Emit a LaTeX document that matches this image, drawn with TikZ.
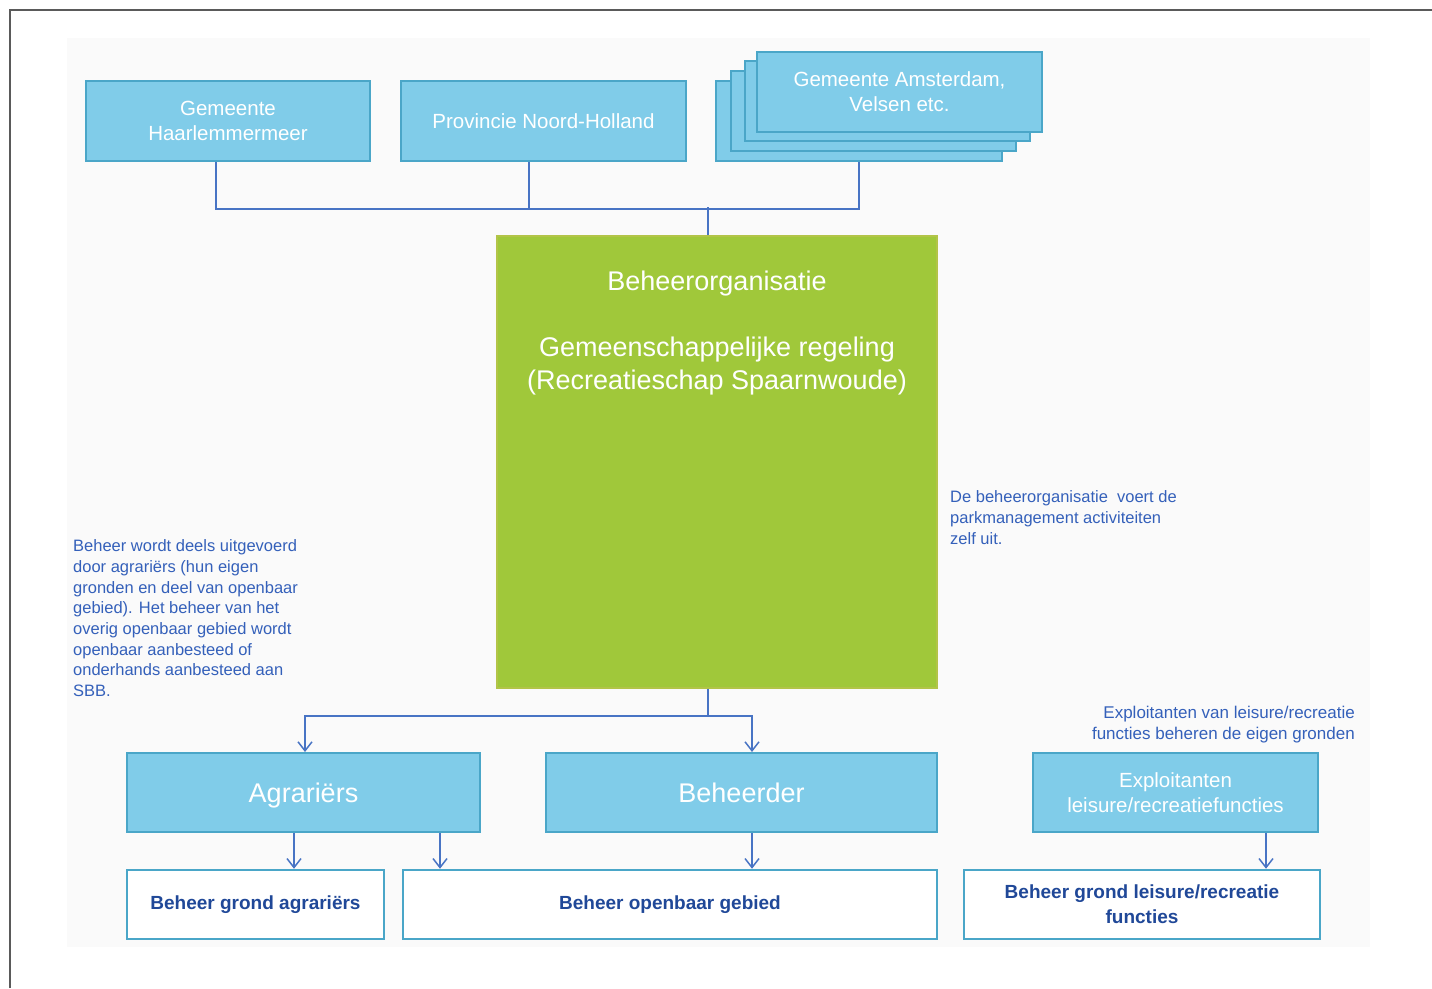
\documentclass[tikz,border=0pt]{standalone}
\usepackage{fontspec}
\setmainfont{Liberation Sans}
\usetikzlibrary{positioning, arrows.meta}
\definecolor{boxcolor}{RGB}{128,204,233}
\definecolor{boxedgecolor}{RGB}{74,166,200}
\definecolor{orgcolor}{RGB}{160,200,58}
\definecolor{orgedgecolor}{RGB}{178,196,72}
\definecolor{linecolor}{RGB}{72,116,196}
\definecolor{notecolor}{RGB}{52,96,186}
\definecolor{taskcolor}{RGB}{32,72,152}
\definecolor{bgcolor}{RGB}{250,250,250}
\definecolor{framecolor}{RGB}{90,90,90}

\begin{document}
\begin{tikzpicture}[x=1pt, y=-1pt]
  \tikzset{
    party/.style={
      draw=boxedgecolor,
      fill=boxcolor,
      line width=2pt,
      text=white,
      align=center,
      inner sep=0pt,
      minimum height=80pt,
      font=\fontsize{20.5}{24.5}\selectfont
    },
    role/.style={party, minimum height=79pt, text height=19.7pt, text depth=0pt, font=\fontsize{27}{32}\selectfont},
    task/.style={
      draw=boxedgecolor,
      fill=white,
      line width=2.5pt,
      text=taskcolor,
      align=center,
      inner sep=0pt,
      minimum height=69pt,
      font=\fontsize{19}{25}\selectfont\bfseries
    },
    note/.style={text=notecolor, inner sep=0pt, font=\fontsize{16.5}{20.7}\selectfont},
    conn/.style={draw=linecolor, line width=1.5pt},
    arr/.style={conn, -{Straight Barb[length=9pt, width=14pt]}}
  }
  \useasboundingbox (0,0) rectangle (1432,988);

  % Page frame and background
  \draw[framecolor, line width=1.5pt] (10,988) -- (10,10) -- (1432,10);
  \fill[bgcolor] (67,38) rectangle (1370,947);

  % Participants (top row)
  \node[party, minimum width=284pt] (hm) at (228,121) {Gemeente\\Haarlemmermeer};
  \node[party, minimum width=285pt] (prov) at (543.5,121) {Provincie Noord-Holland};
  \node[party, minimum width=286pt] (ams4) at (859,121) {};
  \node[party, minimum width=285pt] (ams3) at (873,111) {};
  \node[party, minimum width=285pt] (ams2) at (887,101) {};
  \node[party, minimum width=285pt] (ams) at (899.5,91.5) {Gemeente Amsterdam,\\Velsen etc.};

  % Management organisation (green)
  \node[draw=orgedgecolor, fill=orgcolor, line width=1.5pt, minimum width=440pt, minimum height=452pt] (org) at (717,462) {};
  \node[text=white, align=center, font=\fontsize{27}{33}\selectfont] (orgtxt) at (717,333.5)
    {Beheerorganisatie\\[33pt]Gemeenschappelijke regeling\\(Recreatieschap Spaarnwoude)};

  % Executing parties
  \node[role, minimum width=353pt] (agr) at (303.5,792.5) {Agrariërs};
  \node[role, minimum width=391pt] (beh) at (741.5,792.5) {Beheerder};
  \node[party, minimum width=285pt, minimum height=79pt] (expl) at (1175.5,792.5) {Exploitanten\\leisure/recreatiefuncties};

  % Management tasks (white)
  \node[task, minimum width=257pt] (bgr) at (255.5,904.5) {Beheer grond agrariërs};
  \node[task, minimum width=534pt] (bopen) at (670,904.5) {Beheer openbaar gebied};
  \node[task, minimum width=356pt] (bleis) at (1142,904.5) {Beheer grond leisure/recreatie\\functies};

  % Notes
  \node[note, align=left, anchor=north west] (noteagr) at (73,539.5)
    {Beheer wordt deels uitgevoerd\\door agrariërs (hun eigen\\gronden en deel van openbaar\\gebied). Het beheer van het\\overig openbaar gebied wordt\\openbaar aanbesteed of\\onderhands aanbesteed aan\\SBB.};
  \node[note, align=left, anchor=north west] (noteorg) at (950,490.5)
    {De beheerorganisatie\ \ voert de\\parkmanagement activiteiten\\zelf uit.};
  \node[note, align=right, anchor=north east, font=\fontsize{17}{21}\selectfont] (noteexpl) at (1355,705.5)
    {Exploitanten van leisure/recreatie\\functies beheren de eigen gronden};

  % Connectors
  \draw[conn] ([xshift=-12]hm.south) -- ++(0,47) -| (ams4.south);
  \draw[conn] ([xshift=-14.5]prov.south) -- ++(0,47);
  \draw[conn] ([xshift=-9]org.north) -- ++(0,-28);
  \draw[arr] ([xshift=-9]org.south) -- ++(0,27) -| ([xshift=1.5]agr.north);
  \draw[arr] ([xshift=-9]org.south) -- ++(0,27) -| ([xshift=10.5]beh.north);
  \draw[arr] ([xshift=-9.5]agr.south) -- ([xshift=-9.5]agr.south |- bgr.north);
  \draw[arr] ([xshift=136.5]agr.south) -- ([xshift=136.5]agr.south |- bopen.north);
  \draw[arr] ([xshift=10.5]beh.south) -- ([xshift=10.5]beh.south |- bopen.north);
  \draw[arr] ([xshift=90.5]expl.south) -- ([xshift=90.5]expl.south |- bleis.north);
\end{tikzpicture}
\end{document}
